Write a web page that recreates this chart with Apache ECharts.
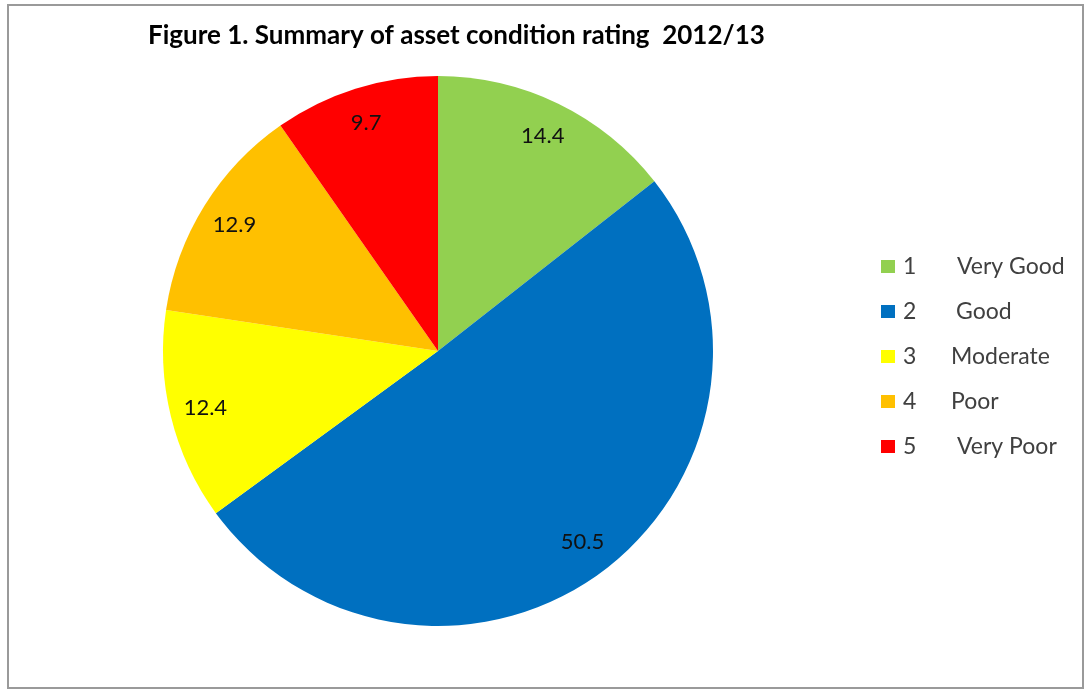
<!DOCTYPE html>
<html>
<head>
<meta charset="utf-8">
<script src="https://cdn.jsdelivr.net/npm/echarts@6/dist/echarts.min.js"></script>
<style>
html,body{margin:0;padding:0;background:#fff;}
#chart{width:1087px;height:695px;}
</style>
</head>
<body>
<div id="chart"></div>
<script>
const ratings = ['1', '2', '3', '4', '5'];
const ratingNames = ['Very Good', 'Good', 'Moderate', 'Poor', 'Very Poor'];
const values = [14.4, 50.5, 12.4, 12.9, 9.7];
const colors = ['#92D050', '#0070C0', '#FFFF00', '#FFC000', '#FF0000'];
const nameOffsets = [40, 39, 34, 34, 40];

const chart = echarts.init(document.getElementById('chart'));
const data = ratings.map((r, i) => ({ name: r, value: values[i], itemStyle: { color: colors[i] } }));

const rich = {
  n: { fontFamily: 'Lato', fontSize: 23, color: '#404040', width: 14 },
  t: { fontFamily: 'Lato', fontSize: 23, color: '#404040' }
};
nameOffsets.forEach((w, i) => { rich['s' + i] = { width: w }; });

chart.setOption({
  backgroundColor: '#fff',
  animation: false,
  title: {
    text: 'Figure 1. Summary of asset condition rating  2012/13',
    left: 143, top: 18,
    textStyle: { fontFamily: 'Lato', fontWeight: 'bold', fontSize: 26, color: '#000' }
  },
  graphic: [{
    type: 'rect',
    shape: { x: 8, y: 5, width: 1075, height: 683 },
    style: { fill: 'none', stroke: '#9a9a9a', lineWidth: 2 },
    silent: true
  }],
  legend: {
    orient: 'vertical',
    left: 876, top: 250,
    itemWidth: 14, itemHeight: 13,
    itemGap: 22,
    itemStyle: { borderWidth: 0 },
    icon: 'rect',
    data: ratings,
    formatter: function (name) {
      const i = ratings.indexOf(name);
      return '{n|' + name + '}{s' + i + '|}{t|' + ratingNames[i] + '}';
    },
    textStyle: {
      fontFamily: 'Lato', fontSize: 23, color: '#404040', lineHeight: 23,
      padding: [0, 0, 0, 3],
      rich: rich
    }
  },
  series: [
    {
      type: 'pie',
      center: [438, 351],
      radius: [0, 275],
      startAngle: 90,
      clockwise: true,
      silent: true,
      data: data,
      label: { show: false },
      labelLine: { show: false },
      itemStyle: { borderWidth: 0 }
    },
    {
      type: 'pie',
      center: [438, 351],
      radius: [198, 275],
      startAngle: 90,
      clockwise: true,
      silent: true,
      legendHoverLink: false,
      data: ratings.map((r, i) => ({ name: r, value: values[i] })),
      itemStyle: { color: 'rgba(0,0,0,0)', borderWidth: 0 },
      label: {
        show: true, position: 'inside',
        formatter: '{c}',
        fontFamily: 'Lato', fontSize: 22, color: '#111'
      },
      labelLine: { show: false }
    }
  ]
});
</script>
</body>
</html>
